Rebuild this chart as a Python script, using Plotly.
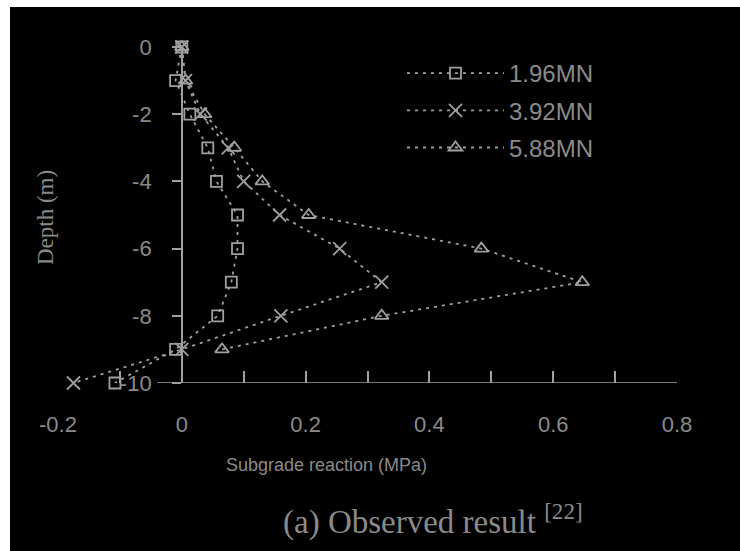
import plotly.graph_objects as go

# Depth below ground (m) and measured subgrade reaction (MPa) per load step
depth = [0, -1, -2, -3, -4, -5, -6, -7, -8, -9, -10]
depth_588 = [0, -1, -2, -3, -4, -5, -6, -7, -8, -9]
reaction_196 = [0.0, -0.01, 0.013, 0.042, 0.056, 0.09, 0.09, 0.08, 0.058, -0.01, -0.108]
reaction_392 = [0.0, 0.006, 0.03, 0.075, 0.10, 0.158, 0.255, 0.323, 0.16, 0.0, -0.175]
reaction_588 = [0.0, 0.006, 0.037, 0.085, 0.13, 0.205, 0.484, 0.647, 0.323, 0.065]
load_names = ["1.96MN", "3.92MN", "5.88MN"]

x_tickvals = [-0.2, 0, 0.2, 0.4, 0.6, 0.8]
x_ticktext = ["-0.2", "0", "0.2", "0.4", "0.6", "0.8"]
y_tickvals = [0, -2, -4, -6, -8, -10]
y_ticktext = ["0", "-2", "-4", "-6", "-8", "-10"]

W, H = 740, 551
ML, MR, MT, MB = 58, 63, 47, 168
PW, PH = W - ML - MR, H - MT - MB

BG = "#000000"
INK = "#a0a0a0"
TXT = "#8a8a8a"
SANS = "Liberation Sans, Arial, sans-serif"
SERIF = "Liberation Serif, Times New Roman, serif"


def px_x(px):
    return (px - ML) / PW


def px_y(py):
    return (H - MB - py) / PH


series = [
    (load_names[0], reaction_196, depth, "square-open", 11),
    (load_names[1], reaction_392, depth, "x-thin-open", 13),
    (load_names[2], reaction_588, depth_588, "triangle-up-open", 12),
]

fig = go.Figure()
for name, xs, ys, sym, size in series:
    fig.add_trace(go.Scatter(
        x=xs, y=ys, name=name, legendgroup=name,
        mode="lines+markers",
        line=dict(color=INK, width=1.8, dash="3px,5px"),
        marker=dict(symbol=sym, size=size, color=INK, line=dict(color=INK, width=1.8)),
        cliponaxis=False,
    ))

x_min, x_max = -0.2, 0.8

fig.update_layout(
    width=W, height=H,
    margin=dict(l=ML, r=MR, t=MT, b=MB),
    paper_bgcolor=BG, plot_bgcolor=BG,
    font=dict(family=SANS, color=TXT, size=22),
    showlegend=True,
    legend=dict(
        x=px_x(402), y=px_y(51), xanchor="left", yanchor="top",
        bgcolor="rgba(0,0,0,0)", font=dict(size=24, color=TXT, family=SANS),
        tracegroupgap=3, itemwidth=97,
    ),
    xaxis=dict(
        range=[x_min, x_max], tickvals=x_tickvals, ticktext=x_ticktext,
        ticks="inside", ticklen=12, tickwidth=1.5, tickcolor=INK,
        minor=dict(dtick=0.1, tick0=0, ticks="inside", ticklen=12, tickwidth=1.5, tickcolor=INK),
        showline=False, showgrid=False, zeroline=False,
        ticklabelstandoff=26, tickfont=dict(size=22, color=TXT, family=SANS),
    ),
    yaxis=dict(
        range=[-10, 0], tickvals=y_tickvals, ticktext=y_ticktext,
        anchor="free", position=(0 - x_min) / (x_max - x_min),
        showline=True, linecolor=INK, linewidth=1.5,
        ticks="outside", ticklen=9, tickwidth=1.5, tickcolor=INK,
        showgrid=False, zeroline=False,
        ticklabelstandoff=16, tickfont=dict(size=22, color=TXT, family=SANS),
    ),
    shapes=[
        # horizontal axis line at the base depth
        dict(type="line", xref="x", yref="y", x0=-0.04, x1=x_max, y0=-10, y1=-10,
             line=dict(color=INK, width=1.5)),
        # white frame strips along the left and top edges
        dict(type="rect", xref="paper", yref="paper", layer="above",
             x0=px_x(0), x1=px_x(10), y0=px_y(H), y1=px_y(0),
             fillcolor="white", line=dict(width=0)),
        dict(type="rect", xref="paper", yref="paper", layer="above",
             x0=px_x(0), x1=px_x(W), y0=px_y(7), y1=px_y(0),
             fillcolor="white", line=dict(width=0)),
    ],
    annotations=[
        dict(text="Subgrade reaction (MPa)", xref="paper", yref="paper",
             x=px_x(326), y=px_y(465), xanchor="center", yanchor="middle", showarrow=False,
             font=dict(family=SANS, size=18, color=TXT)),
        dict(text="Depth (m)", xref="paper", yref="paper", textangle=-90,
             x=px_x(45), y=px_y(218), xanchor="center", yanchor="middle", showarrow=False,
             font=dict(family=SERIF, size=23, color=TXT)),
        dict(text="(a) Observed result <sup>[22]</sup>", xref="paper", yref="paper",
             x=px_x(433), y=px_y(519), xanchor="center", yanchor="middle", showarrow=False,
             font=dict(family=SERIF, size=33, color=TXT)),
    ],
)

fig.write_html("out.html")
